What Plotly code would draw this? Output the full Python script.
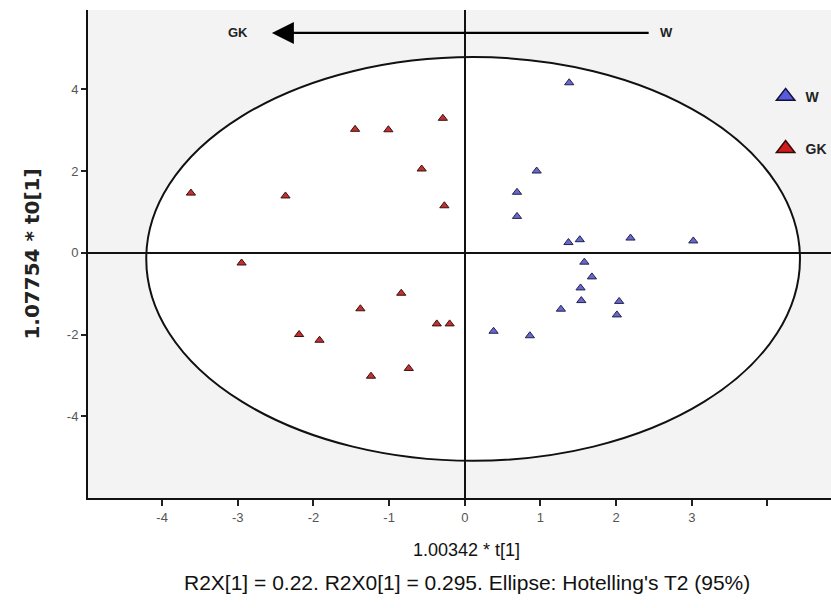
import plotly.graph_objects as go

# ---- data ----
w_x = [1.38, 0.95, 0.69, 0.69, 1.37, 1.52, 2.19, 3.02, 1.58, 1.68, 1.53, 1.54, 2.04, 2.01, 1.27, 0.38, 0.86]
w_y = [4.16, 2.00, 1.48, 0.89, 0.25, 0.32, 0.36, 0.29, -0.23, -0.59, -0.86, -1.17, -1.19, -1.52, -1.38, -1.92, -2.03]

gk_x = [-3.62, -2.37, -2.95, -1.45, -1.01, -0.29, -0.57, -0.27, -0.84, -1.38, -0.37, -0.20, -2.19, -1.92, -0.74, -1.24]
gk_y = [1.46, 1.39, -0.25, 3.02, 3.01, 3.29, 2.05, 1.15, -0.99, -1.37, -1.74, -1.74, -2.00, -2.14, -2.83, -3.02]

x_ticks = [-4, -3, -2, -1, 0, 1, 2, 3, 4]
x_tick_labels = ["-4", "-3", "-2", "-1", "0", "1", "2", "3", ""]
y_ticks = [-4, -2, 0, 2, 4]
y_tick_labels = ["-4", "-2", "0", "2", "4"]

# Hotelling's T2 ellipse extent
ellipse_x = [-4.21, 4.43]
ellipse_y = [-5.09, 4.79]

# direction arrow (from W towards GK)
arrow_from = 2.45
arrow_to = -2.55
arrow_level = 5.38

x_title = "1.00342 * t[1]"
caption = "R2X[1] = 0.22. R2X0[1] = 0.295. Ellipse: Hotelling's T2 (95%)"
y_title = "1.07754 * t0[1]"

sans = "Liberation Sans, Arial, sans-serif"

fig = go.Figure()

# data traces (not in legend)
fig.add_trace(go.Scatter(
    x=w_x, y=w_y, mode="markers", name="W", showlegend=False, legendgroup="w",
    marker=dict(symbol="triangle-up", size=8, color="#6767d0",
                line=dict(color="#22224a", width=1)),
))
fig.add_trace(go.Scatter(
    x=gk_x, y=gk_y, mode="markers", name="GK", showlegend=False, legendgroup="gk",
    marker=dict(symbol="triangle-up", size=8, color="#c23030",
                line=dict(color="#3a1010", width=1)),
))
# legend entries
fig.add_trace(go.Scatter(
    x=[None], y=[None], mode="markers", name="<b>W</b>", legendgroup="w",
    marker=dict(symbol="triangle-up", size=16, color="#5a5ae0",
                line=dict(color="#111133", width=1.5)),
))
fig.add_trace(go.Scatter(
    x=[None], y=[None], mode="markers", name="<b>GK</b>", legendgroup="gk",
    marker=dict(symbol="triangle-up", size=16, color="#d01c1c",
                line=dict(color="#330a0a", width=1.5)),
))

# ellipse
fig.add_shape(type="circle", xref="x", yref="y",
              x0=ellipse_x[0], x1=ellipse_x[1], y0=ellipse_y[0], y1=ellipse_y[1],
              fillcolor="white", line=dict(color="#111111", width=2), layer="below")

# arrow
fig.add_annotation(x=arrow_to, y=arrow_level, ax=arrow_from, ay=arrow_level,
                   xref="x", yref="y", axref="x", ayref="y", text="",
                   showarrow=True, arrowhead=2, arrowsize=2.0, arrowwidth=2.2,
                   arrowcolor="#000000")
fig.add_annotation(x=arrow_to, y=arrow_level, xref="x", yref="y", text="<b>GK</b>",
                   showarrow=False, xanchor="right", xshift=-22,
                   font=dict(family=sans, size=13, color="#222222"))
fig.add_annotation(x=arrow_from, y=arrow_level, xref="x", yref="y", text="<b>W</b>",
                   showarrow=False, xanchor="left", xshift=8,
                   font=dict(family=sans, size=13, color="#222222"))

# x title and caption
fig.add_annotation(x=0.509, y=-0.082, xref="paper", yref="paper", text=x_title,
                   showarrow=False, xanchor="center", yanchor="top",
                   font=dict(family=sans, size=18, color="#111111"))
fig.add_annotation(x=0.510, y=-0.1445, xref="paper", yref="paper", text=caption,
                   showarrow=False, xanchor="center", yanchor="top",
                   font=dict(family=sans, size=21, color="#111111"))

fig.update_layout(
    width=831, height=608,
    margin=dict(l=88, r=0, t=10, b=110, autoexpand=False),
    paper_bgcolor="white",
    plot_bgcolor="#f3f3f3",
    showlegend=True,
    legend=dict(x=0.912, y=0.855, xanchor="left", yanchor="top",
                bgcolor="rgba(0,0,0,0)", tracegroupgap=31,
                font=dict(family=sans, size=14, color="#222222"),
                itemwidth=30),
    xaxis=dict(
        range=[-4.98, 4.84], tickmode="array", tickvals=x_ticks, ticktext=x_tick_labels,
        showgrid=False, zeroline=True, zerolinecolor="#111111", zerolinewidth=2,
        showline=True, linecolor="#111111", linewidth=2, automargin=False,
        ticks="outside", ticklen=6, tickcolor="#222222", tickwidth=1.5,
        tickfont=dict(family=sans, size=13, color="#555555"),
    ),
    yaxis=dict(
        range=[-6.0, 5.94], tickmode="array", tickvals=y_ticks, ticktext=y_tick_labels,
        showgrid=False, zeroline=True, zerolinecolor="#111111", zerolinewidth=2,
        showline=True, linecolor="#111111", linewidth=2, automargin=False,
        ticks="outside", ticklen=5, tickcolor="#222222", tickwidth=1.5,
        tickfont=dict(family=sans, size=13, color="#555555"),
        title=dict(text="<b>" + y_title + "</b>", standoff=22,
                   font=dict(family="DejaVu Sans, sans-serif", size=20, color="#222222")),
    ),
)

fig.write_html("out.html", config={"displayModeBar": False},
               post_script="document.body.style.margin='0px';")
